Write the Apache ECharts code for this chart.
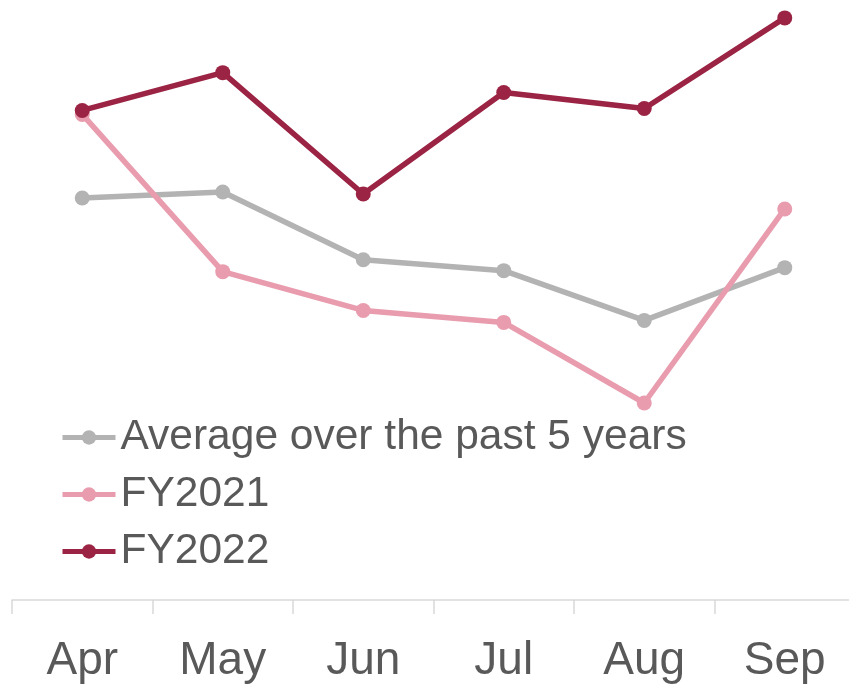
<!DOCTYPE html>
<html>
<head>
<meta charset="utf-8">
<script src="https://cdn.jsdelivr.net/npm/echarts@6/dist/echarts.min.js"></script>
<style>
html,body{margin:0;padding:0;background:#fff;overflow:hidden;}
#chart{width:870px;height:684px;}
</style>
</head>
<body>
<div id="chart"></div>
<script>
var categories = ['Apr', 'May', 'Jun', 'Jul', 'Aug', 'Sep'];
var seriesNames = ['Average over the past 5 years', 'FY2021', 'FY2022'];
var avg5y = [404, 410, 342, 331, 281, 334];
var fy2021 = [488, 330, 291, 279, 198, 393];
var fy2022 = [492, 530, 408, 510, 494, 585];

var colors = ['#b3b3b3', '#e89cae', '#9b2343'];
var chart = echarts.init(document.getElementById('chart'));
function mk(name, data, color) {
  return {
    name: name, type: 'line', data: data,
    symbol: 'circle', symbolSize: 15,
    lineStyle: { color: color, width: 5.5 },
    itemStyle: { color: color },
    emphasis: { disabled: true },
    animation: false
  };
}
chart.setOption({
  animation: false,
  textStyle: { fontFamily: 'Liberation Sans, Arial, sans-serif' },
  grid: { left: 12, top: 3, width: 843, bottom: 80, containLabel: false },
  legend: {
    orient: 'vertical', left: 60, top: 416, padding: 0,
    itemWidth: 53, itemHeight: 18, itemGap: 14, itemTextGap: 5,
    lineStyle: { width: 5 },
    textStyle: { fontSize: 42.5, color: '#595959', fontFamily: 'Liberation Sans, Arial, sans-serif' },
    data: seriesNames
  },
  xAxis: {
    type: 'category', data: categories, boundaryGap: true,
    axisLine: { show: true, lineStyle: { color: '#d9d9d9', width: 1.5 } },
    axisTick: { show: true, length: 14, lineStyle: { color: '#d9d9d9', width: 1.5 } },
    axisLabel: { fontSize: 46, color: '#595959', margin: 38, fontFamily: 'Liberation Sans, Arial, sans-serif' }
  },
  yAxis: { type: 'value', min: 0, max: 600, show: false, splitLine: { show: false } },
  series: [
    mk(seriesNames[0], avg5y, colors[0]),
    mk(seriesNames[1], fy2021, colors[1]),
    mk(seriesNames[2], fy2022, colors[2])
  ]
});
</script>
</body>
</html>
